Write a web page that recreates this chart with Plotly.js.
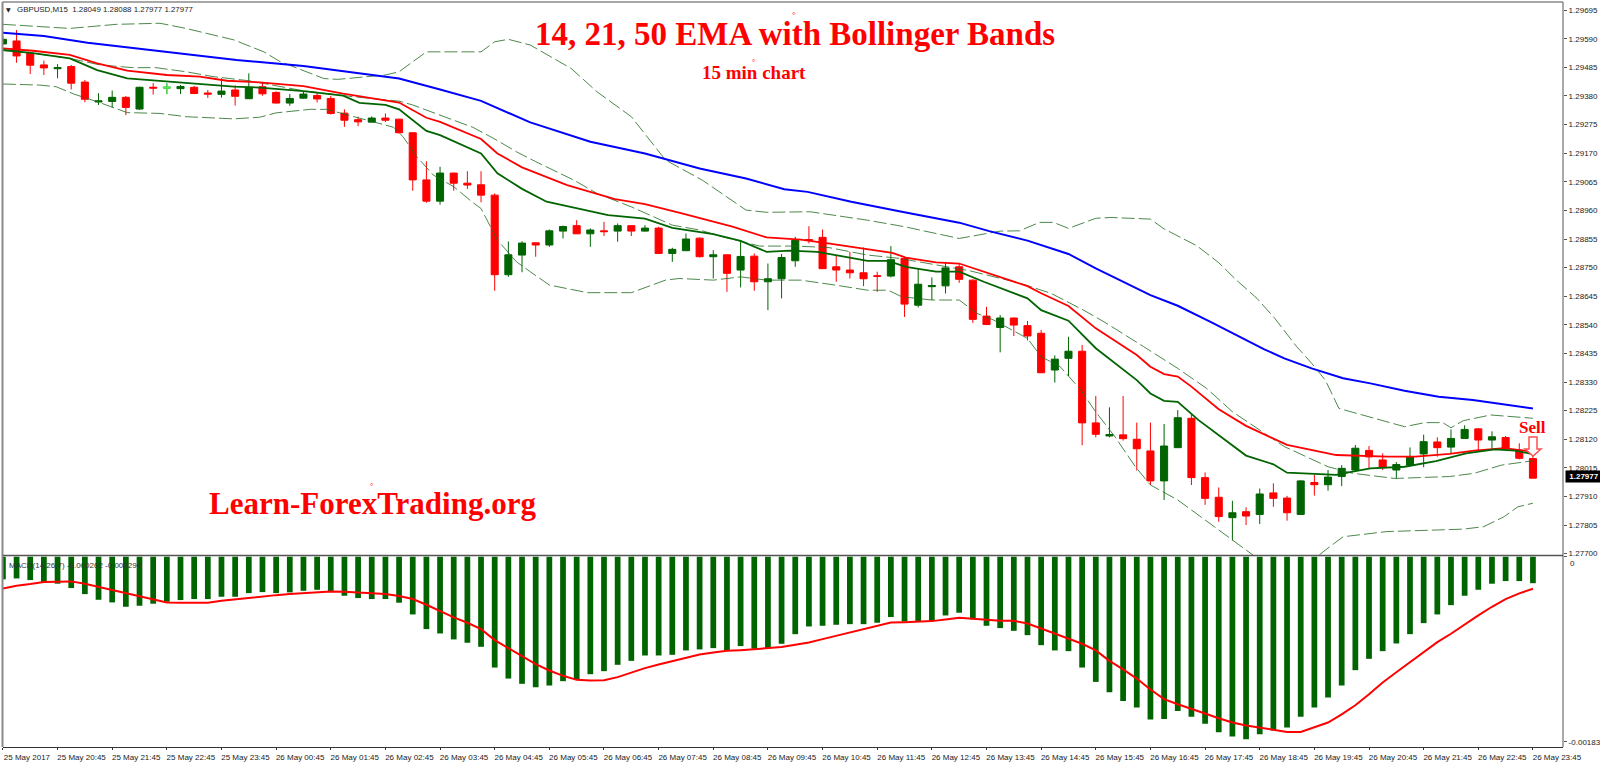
<!DOCTYPE html>
<html><head><meta charset="utf-8">
<script src="https://cdn.plot.ly/plotly-3.0.1.min.js"></script>
<style>html,body{margin:0;padding:0;background:#fff}#c{width:1600px;height:765px}</style>
</head><body><div id="c"></div>
<script>
const opens=[1.29571,1.29582,1.29537,1.29494,1.29480,1.29488,1.29431,1.29358,1.29360,1.29375,
1.29332,1.29412,1.29409,1.29407,1.29412,1.29391,1.29386,1.29402,1.29370,1.29414,
1.29393,1.29354,1.29372,1.29382,1.29371,1.29317,1.29293,1.29284,1.29299,1.29295,
1.29245,1.29072,1.28994,1.29097,1.29060,1.29054,1.29016,1.28724,1.28796,1.28841,
1.28833,1.28884,1.28904,1.28874,1.28885,1.28884,1.28904,1.28884,1.28895,1.28802,
1.28812,1.28858,1.28790,1.28797,1.28741,1.28792,1.28698,1.28709,1.28775,1.28853,
1.28861,1.28753,1.28741,1.28731,1.28720,1.28719,1.28784,1.28612,1.28680,1.28683,
1.28753,1.28704,1.28572,1.28530,1.28565,1.28537,1.28509,1.28374,1.28417,1.28443,
1.28180,1.28132,1.28136,1.28120,1.28077,1.27967,1.28089,1.28197,1.27979,1.27907,
1.27832,1.27854,1.27844,1.27923,1.27904,1.27844,1.27961,1.27953,1.27983,1.28007,
1.28079,1.28044,1.28007,1.28025,1.28066,1.28110,1.28091,1.28123,1.28158,1.28117,
1.28126,1.28080,1.28049];
const highs=[1.29601,1.29622,1.29539,1.29510,1.29497,1.29494,1.29439,1.29390,1.29400,1.29380,
1.29414,1.29427,1.29427,1.29420,1.29417,1.29402,1.29445,1.29420,1.29463,1.29429,
1.29397,1.29387,1.29395,1.29395,1.29380,1.29331,1.29304,1.29305,1.29316,1.29296,
1.29247,1.29140,1.29120,1.29098,1.29104,1.29104,1.29022,1.28846,1.28847,1.28842,
1.28890,1.28904,1.28924,1.28894,1.28918,1.28912,1.28904,1.28906,1.28900,1.28823,
1.28875,1.28861,1.28814,1.28798,1.28851,1.28802,1.28765,1.28800,1.28863,1.28902,
1.28890,1.28796,1.28808,1.28824,1.28735,1.28829,1.28787,1.28747,1.28714,1.28771,
1.28765,1.28707,1.28606,1.28576,1.28567,1.28554,1.28521,1.28428,1.28496,1.28466,
1.28279,1.28237,1.28279,1.28181,1.28181,1.28176,1.28227,1.28215,1.27998,1.27943,
1.27894,1.27870,1.27939,1.27958,1.27912,1.27970,1.27989,1.28007,1.28025,1.28099,
1.28095,1.28068,1.28036,1.28090,1.28137,1.28127,1.28156,1.28171,1.28161,1.28149,
1.28132,1.28105,1.28088];
const lows=[1.29567,1.29502,1.29461,1.29457,1.29445,1.29404,1.29357,1.29347,1.29338,1.29310,
1.29329,1.29385,1.29387,1.29387,1.29387,1.29373,1.29374,1.29345,1.29370,1.29381,
1.29353,1.29344,1.29369,1.29356,1.29312,1.29267,1.29269,1.29282,1.29284,1.29242,
1.29032,1.28988,1.28981,1.29032,1.29039,1.28990,1.28665,1.28716,1.28733,1.28790,
1.28826,1.28857,1.28873,1.28826,1.28866,1.28845,1.28866,1.28882,1.28802,1.28771,
1.28812,1.28787,1.28710,1.28661,1.28677,1.28665,1.28594,1.28637,1.28753,1.28839,
1.28746,1.28698,1.28710,1.28682,1.28661,1.28714,1.28569,1.28604,1.28631,1.28655,
1.28694,1.28547,1.28539,1.28439,1.28499,1.28483,1.28364,1.28328,1.28352,1.28098,
1.28127,1.28127,1.28115,1.28005,1.27952,1.27897,1.28089,1.27952,1.27879,1.27817,
1.27748,1.27805,1.27809,1.27872,1.27821,1.27842,1.27913,1.27931,1.27948,1.28001,
1.28013,1.28007,1.27976,1.28019,1.28017,1.28056,1.28066,1.28122,1.28078,1.28080,
1.28080,1.28046,1.27977];
const closes=[1.29588,1.29527,1.29493,1.29483,1.29484,1.29427,1.29368,1.29362,1.29375,1.29338,
1.29412,1.29409,1.29412,1.29415,1.29389,1.29387,1.29398,1.29379,1.29412,1.29388,
1.29354,1.29371,1.29387,1.29369,1.29316,1.29291,1.29285,1.29299,1.29291,1.29245,
1.29072,1.28994,1.29097,1.29060,1.29053,1.29016,1.28724,1.28797,1.28840,1.28833,
1.28885,1.28901,1.28874,1.28888,1.28882,1.28904,1.28884,1.28895,1.28802,1.28817,
1.28855,1.28790,1.28797,1.28729,1.28791,1.28698,1.28709,1.28787,1.28850,1.28850,
1.28746,1.28741,1.28731,1.28709,1.28718,1.28779,1.28616,1.28689,1.28684,1.28749,
1.28707,1.28560,1.28541,1.28565,1.28539,1.28499,1.28364,1.28414,1.28443,1.28180,
1.28138,1.28137,1.28122,1.28085,1.27967,1.28095,1.28199,1.27979,1.27903,1.27836,
1.27850,1.27838,1.27919,1.27903,1.27850,1.27967,1.27953,1.27981,1.28013,1.28087,
1.28055,1.28016,1.28027,1.28055,1.28111,1.28089,1.28123,1.28156,1.28117,1.28129,
1.28085,1.28050,1.27977];
const limeBar=12;

const ema50Bars=[0,3,6.2,12.2,17.1,22,25.8,29,32,35,38.6,43,47,51,54.4,57.2,58.9,62.1,65.8,70,72.2,75,78,80,84,86,88.4,90.3,92.3,93.8,95.8,98.1,100.1,102.6,105.1,107.6,112];
const ema50=[1.29612,1.29600,1.29575,1.29539,1.29512,1.29490,1.29466,1.29444,1.29404,1.29362,1.29283,1.29212,1.29169,1.29114,1.29077,1.29038,1.29028,1.28992,1.28955,1.28915,1.28884,1.28849,1.28800,1.28747,1.28649,1.28610,1.28551,1.28502,1.28451,1.28417,1.28380,1.28344,1.28325,1.28298,1.28276,1.28264,1.28233];

const ema21Bars=[0,2.2,4.9,6.9,9.1,12,14.4,16.4,18.8,22,24.9,28,29,31,32,35,36.2,38,41.3,44.8,47,49.7,53.4,55.9,58.4,60.4,65.1,66.1,68.3,70,72,75,76,78,80,83,84,85,86,87,89,91,94,97.6,101.3,103.4,105.9,107.7,109.9,112];
const ema21=[1.29555,1.29546,1.29531,1.29500,1.29473,1.29457,1.29451,1.29436,1.29430,1.29416,1.29389,1.29365,1.29356,1.29300,1.29285,1.29222,1.29169,1.29118,1.29053,1.29001,1.28983,1.28949,1.28900,1.28861,1.28853,1.28839,1.28804,1.28787,1.28769,1.28765,1.28731,1.28682,1.28656,1.28609,1.28527,1.28429,1.28386,1.28359,1.28350,1.28313,1.28230,1.28169,1.28099,1.28062,1.28056,1.28056,1.28066,1.28078,1.28087,1.28074];

const ema14Bars=[0,2.2,4.9,6.9,9.1,12,14.4,16.9,18.8,22,24.9,26.1,28,29,31,32,35,36.2,38,39.8,42.3,44.3,47,49,52,54,55.9,57.6,59.6,63.3,64.8,66.1,68.3,70,71.8,75,76,78,80,83,84,85,86,87.5,91,93,94,97.6,98.8,100.1,102.6,104.9,107.1,109.2,110.7,112];
const ema14=[1.29549,1.29537,1.29518,1.29475,1.29445,1.29433,1.29424,1.29414,1.29411,1.29398,1.29381,1.29355,1.29347,1.29331,1.29252,1.29236,1.29169,1.29096,1.29039,1.28992,1.28965,1.28943,1.28930,1.28896,1.28873,1.28848,1.28808,1.28812,1.28808,1.28775,1.28775,1.28753,1.28735,1.28735,1.28698,1.28637,1.28594,1.28555,1.28454,1.28337,1.28288,1.28261,1.28257,1.28191,1.28060,1.28028,1.27997,1.27989,1.28001,1.28013,1.28019,1.28040,1.28068,1.28083,1.28078,1.28065];

const bbUpperBars=[0,2.2,4.9,8.3,11.5,13.4,16.9,19.1,20.3,23.5,24.5,28,29,31,35,36,37,38.6,41.6,43.5,46,48.5,51.2,54.4,55.9,59.1,63.3,66,70,73,74.4,75.9,76.9,78,80,81.1,84,85,87.4,89,90.3,91.8,93.1,94.7,95.8,96.8,97.8,102.6,104.1,105.4,106,106.9,108.9,112];
const bbUpper=[1.29643,1.29637,1.29628,1.29643,1.29647,1.29628,1.29586,1.29542,1.29506,1.29444,1.29441,1.29457,1.29469,1.29542,1.29542,1.29579,1.29588,1.29567,1.29481,1.29395,1.29304,1.29145,1.29071,1.28961,1.28953,1.28955,1.28924,1.28900,1.28857,1.28884,1.28885,1.28916,1.28916,1.28894,1.28931,1.28934,1.28928,1.28892,1.28830,1.28768,1.28704,1.28637,1.28564,1.28460,1.28399,1.28337,1.28233,1.28166,1.28181,1.28181,1.28162,1.28188,1.28209,1.28197];

const bbMiddleBars=[0,2.2,4.9,7.1,9.5,11.2,13.4,15.4,18,22,25.7,27.6,29,30,31.5,33,34.4,36,37.6,39,41.8,43.5,46,49,51,52.7,55.4,57.9,60.4,63.3,65.6,68.3,70.8,74.5,76.7,79.1,80.6,83.5,85,86,88.1,90,93.8,97,98.8,101.9,105.9,107.7,109.7,112];
const bbMiddle=[1.29546,1.29537,1.29518,1.29494,1.29484,1.29484,1.29469,1.29451,1.29436,1.29399,1.29377,1.29367,1.29361,1.29347,1.29318,1.29291,1.29265,1.29222,1.29175,1.29139,1.29071,1.29022,1.28973,1.28906,1.28888,1.28863,1.28829,1.28829,1.28824,1.28796,1.28784,1.28759,1.28738,1.28692,1.28656,1.28594,1.28551,1.28460,1.28411,1.28380,1.28307,1.28221,1.28093,1.28019,1.27995,1.27976,1.27983,1.27995,1.28025,1.28041];

const bbLowerBars=[0,2.7,3.9,5.2,6.9,8.1,9.1,11.5,13.4,16.9,18.8,20,22.5,23.7,25.7,28.6,29.3,30.3,31.5,33,34.4,35,36.2,37.6,38.6,40,42.8,46,48.5,49.5,52,54,55.9,58.4,60.9,63.3,64.8,65.8,68,70,71.3,72.5,75,76,77.4,78.9,79.9,81.4,82.9,84,86,88,91,93,95,96.8,98.1,101.3,105.1,106.9,108.4,109.9,110.9,112];
const bbLower=[1.29424,1.29420,1.29414,1.29387,1.29359,1.29338,1.29319,1.29316,1.29304,1.29296,1.29302,1.29318,1.29331,1.29331,1.29304,1.29265,1.29230,1.29157,1.29090,1.29047,1.28989,1.28967,1.28851,1.28771,1.28735,1.28686,1.28658,1.28658,1.28704,1.28710,1.28704,1.28716,1.28704,1.28704,1.28686,1.28667,1.28667,1.28643,1.28631,1.28631,1.28582,1.28558,1.28490,1.28423,1.28386,1.28301,1.28227,1.28129,1.28019,1.27952,1.27897,1.27823,1.27713,1.27640,1.27640,1.27713,1.27762,1.27781,1.27787,1.27790,1.27799,1.27836,1.27872,1.27885];

const macdHist=[-0.000224,-0.000215,-0.000231,-0.000254,-0.000267,-0.000310,-0.000370,-0.000426,-0.000452,-0.000495,
-0.000485,-0.000465,-0.000446,-0.000429,-0.000419,-0.000419,-0.000396,-0.000396,-0.000360,-0.000350,
-0.000360,-0.000353,-0.000337,-0.000327,-0.000340,-0.000386,-0.000409,-0.000419,-0.000419,-0.000455,
-0.000571,-0.000716,-0.000759,-0.000818,-0.000851,-0.000891,-0.001096,-0.001205,-0.001257,-0.001290,
-0.001274,-0.001231,-0.001211,-0.001162,-0.001132,-0.001069,-0.001030,-0.000977,-0.000977,-0.000970,
-0.000927,-0.000917,-0.000904,-0.000924,-0.000884,-0.000911,-0.000904,-0.000861,-0.000766,-0.000690,
-0.000683,-0.000673,-0.000667,-0.000667,-0.000653,-0.000597,-0.000640,-0.000640,-0.000634,-0.000581,
-0.000554,-0.000620,-0.000683,-0.000706,-0.000733,-0.000776,-0.000875,-0.000927,-0.000934,-0.001096,
-0.001238,-0.001340,-0.001426,-0.001492,-0.001610,-0.001604,-0.001525,-0.001584,-0.001653,-0.001736,
-0.001779,-0.001805,-0.001756,-0.001719,-0.001690,-0.001584,-0.001492,-0.001393,-0.001274,-0.001122,
-0.001010,-0.000934,-0.000858,-0.000766,-0.000657,-0.000571,-0.000479,-0.000386,-0.000327,-0.000267,
-0.000241,-0.000241,-0.000262];
const macdSignal=[-0.000314,-0.000287,-0.000271,-0.000251,-0.000248,-0.000244,-0.000267,-0.000297,-0.000330,-0.000363,
-0.000393,-0.000419,-0.000452,-0.000455,-0.000455,-0.000455,-0.000436,-0.000422,-0.000406,-0.000389,
-0.000380,-0.000370,-0.000363,-0.000350,-0.000343,-0.000347,-0.000356,-0.000363,-0.000370,-0.000389,
-0.000419,-0.000475,-0.000538,-0.000600,-0.000653,-0.000716,-0.000825,-0.000908,-0.000983,-0.001063,
-0.001125,-0.001178,-0.001218,-0.001224,-0.001221,-0.001191,-0.001145,-0.001102,-0.001066,-0.001033,
-0.001000,-0.000967,-0.000947,-0.000931,-0.000924,-0.000914,-0.000908,-0.000894,-0.000871,-0.000848,
-0.000815,-0.000782,-0.000749,-0.000716,-0.000677,-0.000650,-0.000647,-0.000644,-0.000637,-0.000620,
-0.000604,-0.000614,-0.000624,-0.000634,-0.000634,-0.000660,-0.000710,-0.000762,-0.000809,-0.000861,
-0.000927,-0.001030,-0.001115,-0.001205,-0.001313,-0.001409,-0.001459,-0.001502,-0.001551,-0.001597,
-0.001640,-0.001670,-0.001693,-0.001716,-0.001733,-0.001733,-0.001690,-0.001640,-0.001560,-0.001469,
-0.001360,-0.001244,-0.001142,-0.001040,-0.000940,-0.000845,-0.000762,-0.000670,-0.000580,-0.000495,
-0.000419,-0.000363,-0.000317];

const priceTicks=[1.29695,1.29590,1.29485,1.29380,1.29275,1.29170,1.29065,1.28960,1.28855,1.28750,1.28645,1.28540,1.28435,1.28330,1.28225,1.28120,1.28015,1.27910,1.27805,1.27700];
const priceTickLabels=["1.29695","1.29590","1.29485","1.29380","1.29275","1.29170","1.29065","1.28960","1.28855","1.28750","1.28645","1.28540","1.28435","1.28330","1.28225","1.28120","1.28015","1.27910","1.27805","1.27700"];
const timeTicks=[0,4,8,12,16,20,24,28,32,36,40,44,48,52,56,60,64,68,72,76,80,84,88,92,96,100,104,108,112];
const timeLabels=["25 May 2017","25 May 20:45","25 May 21:45","25 May 22:45","25 May 23:45","26 May 00:45","26 May 01:45","26 May 02:45","26 May 03:45","26 May 04:45","26 May 05:45","26 May 06:45","26 May 07:45","26 May 08:45","26 May 09:45","26 May 10:45","26 May 11:45","26 May 12:45","26 May 13:45","26 May 14:45","26 May 15:45","26 May 16:45","26 May 17:45","26 May 18:45","26 May 19:45","26 May 20:45","26 May 21:45","26 May 22:45","26 May 23:45"];
const macdTicks=[0,-0.00183];
const macdTickLabels=["","-0.00183"];

const GREEN="#006400", RED="#ff0000", BLUE="#0000ff";
const bars=opens.map((_,i)=>i);
const W=1600,H=765,L=3,R=1563,T=2,B=747;
const px=v=>(v-L)/(R-L), py=v=>(B-v)/(B-T);
const TXT="Liberation Sans", SER="Liberation Serif";

const dashed={color:"#1f6a1f",width:1,dash:"13px,4px"};
const traces=[
 {type:"scatter",mode:"lines",x:bbUpperBars,y:bbUpper,line:dashed,xaxis:"x",yaxis:"y",opacity:.8},
 {type:"scatter",mode:"lines",x:bbMiddleBars,y:bbMiddle,line:dashed,xaxis:"x",yaxis:"y",opacity:.8},
 {type:"scatter",mode:"lines",x:bbLowerBars,y:bbLower,line:dashed,xaxis:"x",yaxis:"y",opacity:.8},
 {type:"candlestick",x:bars,open:opens,high:highs,low:lows,close:closes,xaxis:"x",yaxis:"y",whiskerwidth:0,
  increasing:{line:{color:GREEN,width:1},fillcolor:GREEN},decreasing:{line:{color:RED,width:1},fillcolor:RED}},
 {type:"candlestick",x:[limeBar],open:[opens[limeBar]],high:[highs[limeBar]],low:[lows[limeBar]],close:[closes[limeBar]],xaxis:"x",yaxis:"y",whiskerwidth:0,
  increasing:{line:{color:"#55ee55",width:1},fillcolor:"#55ee55"},decreasing:{line:{color:"#55ee55",width:1},fillcolor:"#55ee55"}},
 {type:"scatter",mode:"lines",x:ema50Bars,y:ema50,line:{color:BLUE,width:2},xaxis:"x",yaxis:"y"},
 {type:"scatter",mode:"lines",x:ema21Bars,y:ema21,line:{color:RED,width:1.8},xaxis:"x",yaxis:"y"},
 {type:"scatter",mode:"lines",x:ema14Bars,y:ema14,line:{color:GREEN,width:1.8},xaxis:"x",yaxis:"y"},
 {type:"bar",x:bars,y:macdHist,width:0.42,marker:{color:GREEN,line:{width:0}},xaxis:"x",yaxis:"y2"},
 {type:"scatter",mode:"lines",x:bars,y:macdSignal,line:{color:RED,width:2},xaxis:"x",yaxis:"y2"}
];

const frameLine=(x0,y0,x1,y1,c,w)=>({type:"line",xref:"paper",yref:"paper",x0:px(x0),x1:px(x1),y0:py(y0),y1:py(y1),line:{color:c,width:w},layer:"above"});
const txt=(x,y,text,size,color,family,extra)=>Object.assign({xref:"paper",yref:"paper",x:px(x),y:py(y),text,showarrow:false,xanchor:"center",yanchor:"middle",font:{size,color,family}},extra||{});
const sellArrow=[[1529,437],[1537,437],[1537,449],[1541,449],[1533,456],[1525,449],[1529,449]].map((p,i)=>(i?"L":"M")+px(p[0])+","+py(p[1])).join(" ")+" Z";

const layout={
 width:W,height:H,paper_bgcolor:"#fff",plot_bgcolor:"#fff",showlegend:false,hovermode:false,
 margin:{l:L,r:W-R,t:T,b:H-B,pad:0},boxgap:0.26,barmode:"overlay",
 xaxis:{domain:[0,1],anchor:"y2",range:[0.007,114.2],tickmode:"array",tickvals:timeTicks,ticktext:timeLabels,
  ticks:"outside",ticklen:2,tickcolor:"#333",tickwidth:1,ticklabelshift:24,tickangle:0,
  tickfont:{family:TXT,size:8,color:"#222"},showgrid:false,zeroline:false,showline:true,linecolor:"#333",linewidth:1,
  rangeslider:{visible:false},automargin:false},
 yaxis:{domain:[(B-555)/(B-T),1],range:[1.27695,1.29725],side:"right",anchor:"x",tickmode:"array",tickvals:priceTicks,ticktext:priceTickLabels,
  ticks:"outside",ticklen:3,tickcolor:"#555",tickwidth:1,tickfont:{family:TXT,size:8,color:"#222"},showgrid:false,zeroline:false,showline:false,automargin:false},
 yaxis2:{domain:[0,(B-556)/(B-T)],range:[-0.001882,0.000007],side:"right",anchor:"x",tickmode:"array",tickvals:macdTicks,ticktext:macdTickLabels,
  ticks:"outside",ticklen:3,tickcolor:"#555",tickwidth:1,tickfont:{family:TXT,size:8,color:"#222"},showgrid:false,zeroline:false,showline:false,automargin:false},
 shapes:[
  frameLine(2.5,2,1563,2,"#8a8a8a",1.5),
  frameLine(2.5,2,2.5,747,"#8a8a8a",2),
  frameLine(1563,2,1563,747,"#555",1),
  frameLine(3,555.5,1563,555.5,"#555",1.5),
  {type:"path",xref:"paper",yref:"paper",path:sellArrow,fillcolor:"#fff",line:{color:"#ff5050",width:1.5},layer:"above"}
 ],
 annotations:[
  txt(795,33.5,"14, 21, 50 EMA with Bollinger Bands",33,RED,SER,{font:{size:33,color:RED,family:SER,weight:"bold"}}),
  txt(754,73,"15 min chart",19,RED,SER,{font:{size:19,color:RED,family:SER,weight:"bold"}}),
  txt(372,503,"Learn-ForexTrading.org",31,RED,SER,{font:{size:31,color:RED,family:SER,weight:"bold"}}),
  txt(1532,428,"Sell",17,RED,SER,{font:{size:17,color:RED,family:SER,weight:"bold"}}),
  txt(794,15,"°",9,RED,SER),
  txt(753,63,"°",8,RED,SER),
  txt(371,486,"°",8,RED,SER),
  txt(8,9,"▼",6,"#222","DejaVu Sans"),
  txt(15,9,"GBPUSD,M15  1.28049 1.28088 1.27977 1.27977",7.9,"#222",TXT,{xanchor:"left"}),
  txt(7,565,"MACD(14,26,7) -0.000262 -0.000294",8,"#333",TXT,{xanchor:"left"}),
  txt(1568,563,"0",8,"#222",TXT,{xanchor:"left"}),
  {xref:"paper",yref:"y",x:px(1564.5),y:closes[closes.length-1],yshift:1.5,text:"<b>1.27977</b>",showarrow:false,xanchor:"left",yanchor:"middle",
   bgcolor:"#000",font:{family:TXT,size:8,color:"#fff"},borderpad:1,width:34,align:"center"}
 ]
};
Plotly.newPlot("c",traces,layout,{displayModeBar:false,staticPlot:true});
</script></body></html>
